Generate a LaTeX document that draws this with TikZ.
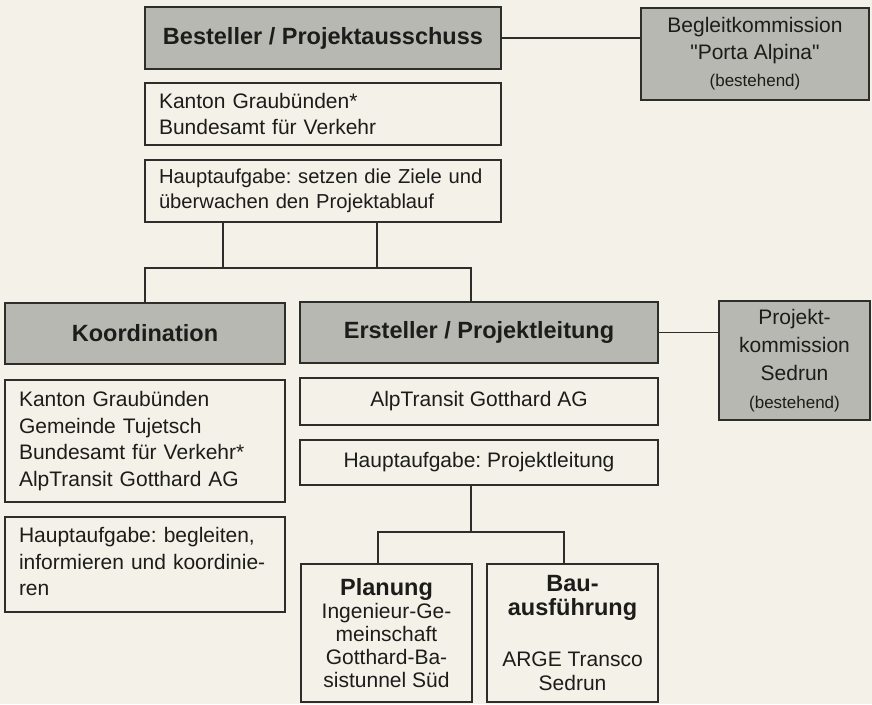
\documentclass[tikz,border=0pt]{standalone}
\usepackage{fontspec}
\setmainfont{Liberation Sans}[Ligatures=TeXOff]
\usetikzlibrary{positioning}
\definecolor{papier}{RGB}{243,241,232}
\definecolor{kastengrau}{RGB}{184,184,178}
\definecolor{linie}{RGB}{45,45,42}
\definecolor{schrift}{RGB}{28,28,26}
\newcommand\titel{\fontsize{23.5}{27}\selectfont\bfseries}
\newcommand\klein{\fontsize{17}{20}\selectfont}
\frenchspacing

\begin{document}
\begin{tikzpicture}[x=1pt, y=-1pt, line width=1.3pt, draw=linie,
    kasten/.style={draw=linie, line width=1.3pt, inner sep=0pt, outer sep=0pt, text=schrift},
    grau/.style={kasten, fill=kastengrau, align=center, font=\titel},
    weiss/.style={kasten, align=center, font=\fontsize{21}{26.5}\selectfont},
    links/.style={kasten, align=left, inner xsep=14pt, font=\fontsize{21}{26.5}\selectfont}]
    \fill[papier] (0,0) rectangle (872,704);

    \node[grau, minimum width=356pt, minimum height=62pt] (best) at (323,38) {Besteller / Projektausschuss};
    \node[links, text width=328pt, minimum height=62pt] (bestmit) at (323,114) {Kanton Graubünden*\\Bundesamt für Verkehr};
    \node[links, text width=328pt, minimum height=62pt, font=\fontsize{20.2}{25}\selectfont] (bestauf) at (323,191) {Hauptaufgabe: setzen die Ziele und\\überwachen den Projektablauf};
    \node[grau, font=\fontsize{21}{27}\selectfont, minimum width=228pt, minimum height=92pt] (begl) at (755,54) {Begleitkommission\\"Porta Alpina"\\\klein (bestehend)};

    \node[grau, minimum width=280pt, minimum height=61pt] (koord) at (145,333.5) {Koordination};
    \node[links, text width=252pt, minimum height=122pt] (koordmit) at (145,441) {Kanton Graubünden\\Gemeinde Tujetsch\\Bundesamt für Verkehr*\\AlpTransit Gotthard AG};
    \node[links, text width=252pt, minimum height=95pt] (koordauf) at (145,564.5) {Hauptaufgabe: begleiten,\\informieren und koordinie-\\ren\vspace*{6pt}};

    \node[grau, minimum width=358pt, minimum height=61pt] (erst) at (479,332.5) {Ersteller / Projektleitung};
    \node[weiss, minimum width=358pt, minimum height=47pt] (erstmit) at (479,401.5) {AlpTransit Gotthard AG};
    \node[weiss, minimum width=358pt, minimum height=45pt] (erstauf) at (479,462.5) {Hauptaufgabe: Projektleitung};
    \node[grau, font=\fontsize{21}{28}\selectfont, minimum width=151pt, minimum height=119pt] (pkom) at (794.5,360.5) {Projekt-\\kommission\\Sedrun\\\klein (bestehend)};

    \node[weiss, font=\fontsize{21}{23}\selectfont, minimum width=171pt, minimum height=138pt] (plan) at (386.5,633) {\titel Planung\\Ingenieur-Ge-\\meinschaft\\Gotthard-Ba-\\sistunnel Süd};
    \node[weiss, font=\fontsize{21}{24}\selectfont, minimum width=171pt, minimum height=138pt] (bau) at (572.5,633) {\titel Bau-\\\titel ausführung\\[27pt]ARGE Transco\\Sedrun};

    \coordinate (astL) at (223,268);
    \coordinate (astR) at (377,268);
    \coordinate (astE) at (471,268);
    \coordinate (unten) at (471,532);
    \coordinate (planast) at (378,532);
    \coordinate (bauast) at (564,532);

    \draw (best.east) -- (best.east -| begl.west);
    \draw (bestauf.south -| astL) -- (astL);
    \draw (bestauf.south -| astR) -- (astR);
    \draw (koord.north) |- (astE) -- (astE |- erst.north);
    \draw (erst.east) -- (erst.east -| pkom.west);
    \draw (erstauf.south -| unten) -- (unten);
    \draw (planast |- plan.north) |- (bauast) -- (bauast |- bau.north);
\end{tikzpicture}
\end{document}
